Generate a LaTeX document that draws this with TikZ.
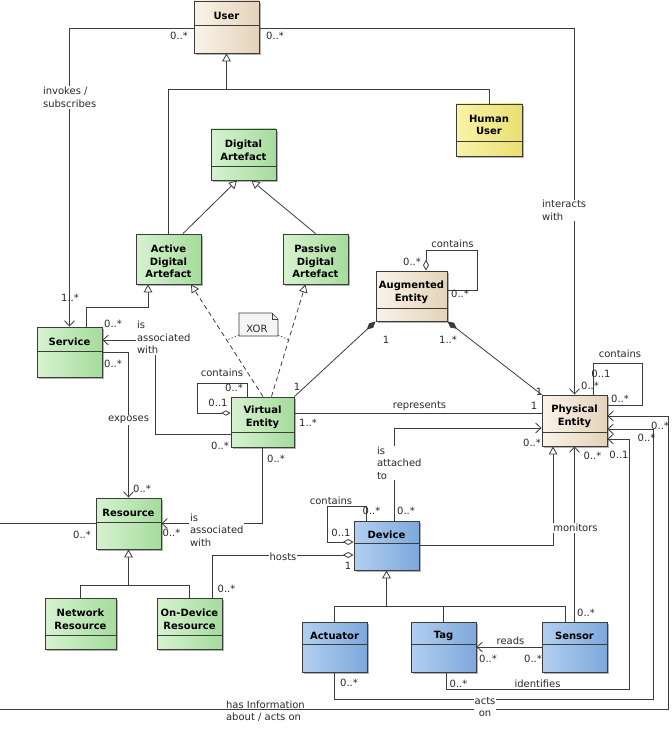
\documentclass[tikz,border=0pt]{standalone}
\usepackage{fontspec}
\setmainfont{DejaVu Sans}
\usetikzlibrary{arrows.meta,calc,shadows}
\definecolor{grL}{HTML}{D6F2D0}
\definecolor{grR}{HTML}{A5DC9C}
\definecolor{tnL}{HTML}{FAF3E8}
\definecolor{tnR}{HTML}{E3D3BA}
\definecolor{blL}{HTML}{B2CFF0}
\definecolor{blR}{HTML}{7DA8DC}
\definecolor{ylL}{HTML}{F8F3A8}
\definecolor{ylR}{HTML}{EADF70}
\definecolor{lnc}{HTML}{3C3C3C}
\definecolor{txc}{HTML}{2A2A2A}
\tikzset{
 cls/.style={draw=lnc, line width=0.7pt, rectangle, inner sep=0pt,
   drop shadow={shadow xshift=1.3pt, shadow yshift=-1.3pt, opacity=0.3, fill=black}},
 grnbox/.style={cls, left color=grL, right color=grR},
 tanbox/.style={cls, left color=tnL, right color=tnR},
 blubox/.style={cls, left color=blL, right color=blR},
 ylwbox/.style={cls, left color=ylL, right color=ylR},
 ttl/.style={font=\bfseries\fontsize{7.5}{9.5}\selectfont, align=center, text=black, inner sep=0pt},
 lbl/.style={font=\fontsize{7.5}{9.5}\selectfont, text=txc, inner sep=0.6pt, align=left},
 wlbl/.style={lbl, fill=white},
 ln/.style={draw=lnc, line width=0.6pt},
 assoc/.style={ln, -{Straight Barb[length=4pt,width=7.5pt]}},
 gen/.style={ln, -{Triangle[length=6pt,width=6.5pt,fill=white]}},
 real/.style={ln, dash pattern=on 3.5pt off 2.5pt, -{Triangle[length=6pt,width=6.5pt,fill=white]}},
 comp/.style={ln, {Diamond[length=9pt,width=4.5pt]}-},
 aggr/.style={ln, {Diamond[length=8pt,width=4.5pt,fill=white]}-},
 aggrend/.style={ln, -{Diamond[length=8pt,width=4.5pt,fill=white]}},
}
\newcommand\umlcls[8]{%
 \node[#7, minimum width={(#4-#2)*0.75pt}, minimum height={(#5-#3)*0.75pt}] (#1) at ({(#2+#4)/2},{(#3+#5)/2}) {};
 \draw[ln, line width=0.7pt] (#1.west |- 0,#6) -- (#1.east |- 0,#6);
 \node[ttl] (#1-t) at ({(#2+#4)/2},{(#3+#6)/2+2.5}) {#8};
}
\begin{document}
\begin{tikzpicture}[x=0.75pt,y=-0.75pt]
\useasboundingbox (0,0) rectangle (671,731);
\clip (0,0) rectangle (671,731);
\fill[white] (0,0) rectangle (671,731);

% classes
\umlcls{user}{194}{1}{259}{53}{25}{tanbox}{User}
\umlcls{human}{456}{104}{522}{156}{141}{ylwbox}{Human\\User}
\umlcls{da}{211}{129}{276}{180}{166}{grnbox}{Digital\\Artefact}
\umlcls{ada}{136}{234}{201}{284}{284}{grnbox}{Active\\Digital\\Artefact}
\umlcls{pda}{283}{234}{348}{284}{284}{grnbox}{Passive\\Digital\\Artefact}
\umlcls{svc}{37}{327}{102}{377}{351}{grnbox}{Service}
\umlcls{ve}{231}{397}{294}{447}{432}{grnbox}{Virtual\\Entity}
\umlcls{ae}{376}{271}{447}{321}{308}{tanbox}{Augmented\\Entity}
\umlcls{pe}{542}{395}{607}{446}{432}{tanbox}{Physical\\Entity}
\umlcls{res}{96}{498}{161}{549}{522}{grnbox}{Resource}
\umlcls{nres}{45}{598}{116}{649}{635}{grnbox}{Network\\Resource}
\umlcls{odr}{157}{598}{222}{649}{635}{grnbox}{On-Device\\Resource}
\umlcls{dev}{354}{521}{419}{570}{543}{blubox}{Device}
\umlcls{act}{302}{622}{367}{672}{644}{blubox}{Actuator}
\umlcls{tag}{411}{622}{476}{672}{644}{blubox}{Tag}
\umlcls{sen}{542}{622}{607}{672}{644}{blubox}{Sensor}

% User associations
\draw[assoc] (user.west |- 0,28) -| (svc.north);
\draw[assoc] (user.east |- 0,28) -| (pe.north);

% generalisations to User
\coordinate (gu) at (226.5,89);
\draw[gen] (gu) -- (user.south);
\draw[ln] (ada.north) |- (human.north |- gu) -- (human.north);

% generalisations to Digital Artefact
\draw[gen] ($(ada.north)+(14.5,0)$) -- ($(da.south)+(-6.5,0)$);
\draw[gen] (pda.north) -- ($(da.south)+(8,0)$);

% Service -> Active Digital Artefact
\draw[gen] ($(svc.north)+(16.5,0)$) |- ($(ada.south)+(-20.5,23)$) -- ($(ada.south)+(-20.5,0)$);

% Virtual Entity realisations
\draw[real] ($(ve.north)+(0.5,0)$) -- ($(ada.south)+(22.5,0)$);
\draw[real] ($(ve.north)+(9,0)$) -- ($(pda.south)+(-10,0)$);

% XOR note
\draw[ln, line width=0.5pt, fill=black!4] (239,313) -- (272,313) -- (278,319) -- (278,336) -- (239,336) -- cycle;
\draw[ln, line width=0.5pt] (272,313) -- (272,319) -- (278,319);
\draw[ln, line width=0.5pt, dash pattern=on 1pt off 1.5pt] (239,335) -- (227,340);
\draw[ln, line width=0.5pt, dash pattern=on 1pt off 1.5pt] (278,335) -- (289,340);
\node[lbl] (xor) at (257,329) {XOR};

% Service <- Virtual Entity
\draw[assoc] ($(ve.west)+(0,12)$) -| ($(svc.east)+(53,-12)$) -- ($(svc.east)+(0,-12)$);
% exposes
\draw[assoc] (svc.east) -| (res.north);
% Resource <- Virtual Entity
\draw[assoc] (ve.south) |- (res.east);
% has information about / acts on
\draw[assoc] (res.west) -- (-10,0 |- res.west) |- ($(pe.east)+(61,288.5)$) |- ($(pe.east)+(0,-4.5)$);

% Resource specialisations
\coordinate (gr) at (128.5,585);
\draw[gen] (gr) -- (res.south);
\draw[ln] (nres.north) |- (odr.north |- gr) -- (odr.north);

% Augmented Entity compositions
\draw[comp] (ae.south west) -- (ve.north east);
\draw[comp] (ae.south east) -- (pe.north west);
% Augmented Entity contains
\draw[aggr] ($(ae.north)+(14.5,0)$) |- ($(ae.east)+(30,-46)$) |- ($(ae.east)+(0,-6)$);
% Physical Entity contains
\draw[ln] ($(pe.north)+(18.5,0)$) |- ($(pe.east)+(35,-57.5)$) |- ($(pe.east)+(0,-15.5)$);
% Virtual Entity contains
\draw[ln, -{Diamond[length=7pt,width=4pt,fill=white]}] ($(ve.north)+(-15.5,0)$) |- ($(ve.west)+(-33,-39)$) |- ($(ve.west)+(0,-9)$);
% represents
\draw[ln] ($(ve.east)+(0,-9)$) -- ($(pe.west)+(0,-7.5)$);
% is attached to
\draw[assoc] ($(dev.north)+(7.5,0)$) |- ($(pe.west)+(0,7.5)$);
% Device contains
\draw[aggrend] ($(dev.north)+(-20.5,0)$) |- ($(dev.west)+(-26,-39.5)$) |- ($(dev.west)+(0,-3.5)$);
% hosts
\draw[aggrend] ($(odr.north)+(22.5,0)$) |- ($(dev.west)+(0,9.5)$);
% Device -> Physical Entity
\draw[gen] (dev.east) -| ($(pe.south)+(-21.5,0)$);
% Device children
\coordinate (gd) at (386.5,607);
\draw[gen] (gd) -- (dev.south);
\draw[ln] (act.north) |- ($(sen.north)+(-9.5,-15)$) -- ($(sen.north)+(-9.5,0)$);
\draw[ln] (tag.north) -- (tag.north |- gd);
% monitors
\draw[assoc] (sen.north) -- (pe.south);
% reads
\draw[assoc] (sen.west) -- (tag.east);
% identifies
\draw[assoc] ($(tag.south)+(2.5,0)$) |- ($(pe.east)+(22,268.5)$) |- ($(pe.east)+(0,18.5)$);
% acts on
\draw[assoc] (act.south) |- ($(pe.east)+(46,278.5)$) |- ($(pe.east)+(0,8.5)$);

% labels
\node[lbl] (l1) at (179,36) {0..*};
\node[lbl] (l2) at (275,36) {0..*};
\node[wlbl, anchor=west] (l3) at (42,97.5) {invokes /\\subscribes};
\node[lbl] (l4) at (70,298) {1..*};
\node[wlbl, anchor=west] (l5) at (541,210.5) {interacts\\with};
\node[lbl] (l6) at (590,386) {0..*};
\node[lbl] (l7) at (620,354) {contains};
\node[lbl] (l8) at (601,374) {0..1};
\node[lbl] (l9) at (620,399) {0..*};
\node[lbl] (l10) at (222,373) {contains};
\node[lbl] (l11) at (234,388) {0..*};
\node[lbl] (l12) at (218,403) {0..1};
\node[wlbl, anchor=west] (l13) at (136,337.5) {is\\associated\\with};
\node[lbl] (l14) at (113,324) {0..*};
\node[lbl] (l15) at (220,446) {0..*};
\node[lbl] (l16) at (113,364) {0..*};
\node[wlbl] (l17) at (128.5,420) {exposes};
\node[lbl] (l18) at (142,489) {0..*};
\node[wlbl, anchor=west] (l19) at (189,530) {is\\associated\\with};
\node[lbl] (l20) at (276,459) {0..*};
\node[lbl] (l21) at (171.5,533) {0..*};
\node[lbl] (l22) at (82,535) {0..*};
\node[wlbl] (l23) at (283,557) {hosts};
\node[lbl] (l24) at (226.5,589) {0..*};
\node[lbl] (l25) at (348,566) {1};
\node[wlbl] (l26) at (331,501) {contains};
\node[lbl] (l27) at (341,533) {0..1};
\node[lbl] (l28) at (371.5,511) {0..*};
\node[wlbl, anchor=west] (l29) at (376,463) {is\\attached\\to};
\node[lbl] (l30) at (406,511) {0..*};
\node[lbl] (l31) at (532,443) {0..*};
\node[lbl] (l32) at (386,340) {1};
\node[lbl] (l33) at (297,387) {1};
\node[lbl] (l34) at (448,340) {1..*};
\node[lbl] (l35) at (539,392) {1};
\node[lbl] (l36) at (412,262) {0..*};
\node[lbl] (l37) at (452.5,244) {contains};
\node[lbl] (l38) at (460,294) {0..*};
\node[lbl] (l39) at (419.5,406) {represents};
\node[lbl] (l40) at (308,423) {1..*};
\node[lbl] (l41) at (534,406) {1};
\node[wlbl] (l42) at (575.5,528) {monitors};
\node[lbl] (l43) at (586,613) {0..*};
\node[lbl] (l44) at (592.5,456) {0..*};
\node[lbl] (l45) at (510.5,641) {reads};
\node[lbl] (l46) at (488,659) {0..*};
\node[lbl] (l47) at (533,659) {0..*};
\node[wlbl] (l48) at (537.5,684) {identifies};
\node[lbl] (l49) at (458.5,684) {0..*};
\node[lbl] (l50) at (619,455) {0..1};
\node[wlbl, align=center] (l51) at (485,707) {acts\\on};
\node[lbl] (l52) at (349,683) {0..*};
\node[lbl] (l53) at (646.5,438) {0..*};
\node[lbl, anchor=west] (l54) at (225,711) {has Information\\about / acts on};
\node[lbl, anchor=east] (l55) at (670,426) {0..*};
\end{tikzpicture}
\end{document}
